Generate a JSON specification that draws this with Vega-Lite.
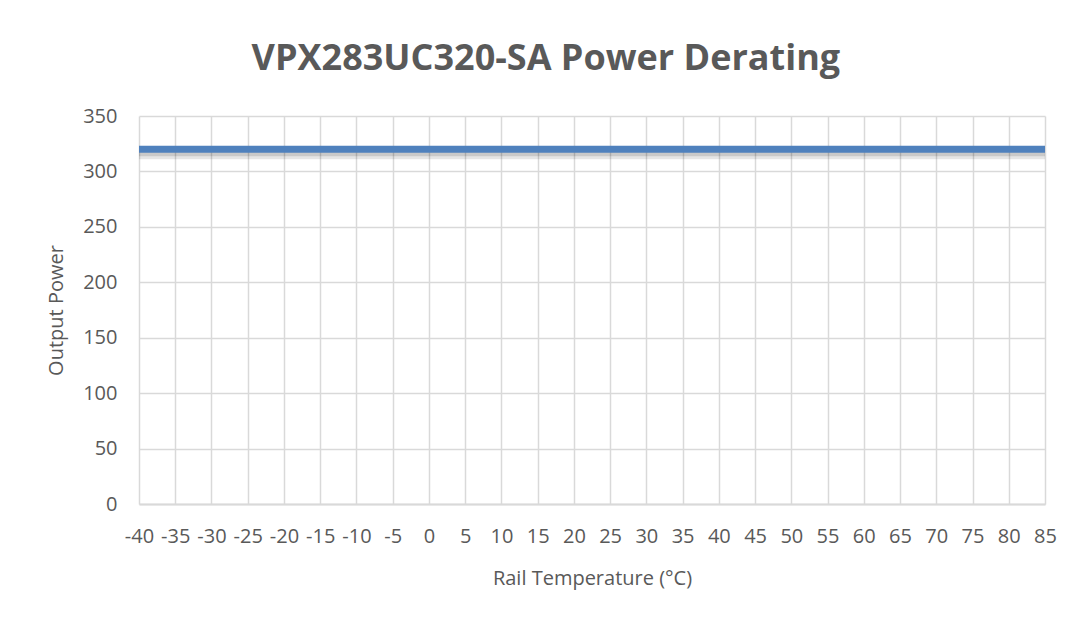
{
  "$schema": "https://vega.github.io/schema/vega-lite/v6.json",
  "autosize": {"type": "none"},
  "width": 906,
  "height": 388,
  "padding": {"left": 139, "top": 116, "right": 33, "bottom": 113},
  "background": "white",
  "title": {
    "text": "VPX283UC320-SA Power Derating",
    "font": "Open Sans",
    "fontSize": 36,
    "fontWeight": "bold",
    "color": "#595959",
    "anchor": "middle",
    "frame": "bounds",
    "dx": -10,
    "offset": 28
  },
  "data": {
    "values": [
      {"temp": -40, "power": 320}, {"temp": -35, "power": 320}, {"temp": -30, "power": 320},
      {"temp": -25, "power": 320}, {"temp": -20, "power": 320}, {"temp": -15, "power": 320},
      {"temp": -10, "power": 320}, {"temp": -5, "power": 320}, {"temp": 0, "power": 320},
      {"temp": 5, "power": 320}, {"temp": 10, "power": 320}, {"temp": 15, "power": 320},
      {"temp": 20, "power": 320}, {"temp": 25, "power": 320}, {"temp": 30, "power": 320},
      {"temp": 35, "power": 320}, {"temp": 40, "power": 320}, {"temp": 45, "power": 320},
      {"temp": 50, "power": 320}, {"temp": 55, "power": 320}, {"temp": 60, "power": 320},
      {"temp": 65, "power": 320}, {"temp": 70, "power": 320}, {"temp": 75, "power": 320},
      {"temp": 80, "power": 320}, {"temp": 85, "power": 320}
    ]
  },
  "encoding": {
    "x": {
      "field": "temp",
      "type": "quantitative",
      "scale": {"domain": [-40, 85], "nice": false, "zero": false},
      "axis": {
        "title": "Rail Temperature (°C)",
        "values": [-40,-35,-30,-25,-20,-15,-10,-5,0,5,10,15,20,25,30,35,40,45,50,55,60,65,70,75,80,85],
        "labelExpr": "'' + datum.value",
        "grid": true,
        "gridColor": "#d9d9d9",
        "gridWidth": 1.5,
        "ticks": false,
        "domain": true,
        "domainColor": "#d9d9d9",
        "domainWidth": 2,
        "labelFont": "Open Sans",
        "labelFontSize": 20,
        "labelColor": "#595959",
        "labelPadding": 22,
        "labelOverlap": false,
        "labelFlush": false,
        "titleFont": "Open Sans",
        "titleFontSize": 20,
        "titleFontWeight": "normal",
        "titleColor": "#595959",
        "titlePadding": 22
      }
    },
    "y": {
      "field": "power",
      "type": "quantitative",
      "scale": {"domain": [0, 350], "nice": false},
      "axis": {
        "title": "Output Power",
        "values": [0, 50, 100, 150, 200, 250, 300, 350],
        "grid": true,
        "gridColor": "#d9d9d9",
        "gridWidth": 1.5,
        "ticks": false,
        "domain": false,
        "labelFont": "Open Sans",
        "labelFontSize": 20,
        "labelColor": "#595959",
        "labelPadding": 22,
        "titleFont": "Open Sans",
        "titleFontSize": 20,
        "titleFontWeight": "normal",
        "titleColor": "#595959",
        "titlePadding": 16
      }
    }
  },
  "layer": [
    {"mark": {"type": "line", "color": "#000000", "opacity": 0.1, "strokeWidth": 10, "yOffset": 5}},
    {"mark": {"type": "line", "color": "#000000", "opacity": 0.12, "strokeWidth": 6, "yOffset": 4}},
    {"mark": {"type": "line", "color": "#4f81bd", "strokeWidth": 7}}
  ],
  "config": {
    "view": {"stroke": null}
  }
}
